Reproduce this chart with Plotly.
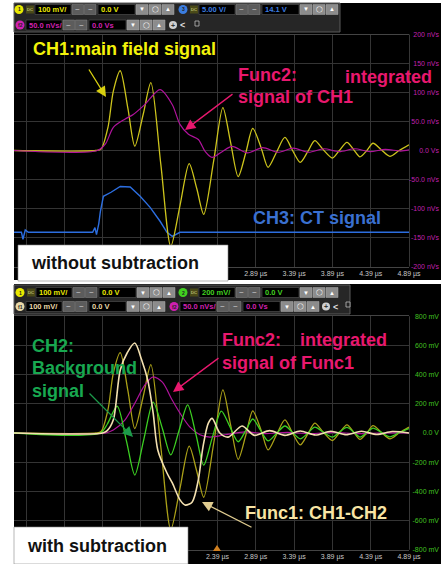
import plotly.graph_objects as go

W, H = 441, 564

# ---- waveforms (time in µs) ----
# CH1 main field signal, mV (same channel in both shots)
t_ch1 = [-0.27, 0.80, 0.87, 0.96, 1.03, 1.12, 1.22, 1.31, 1.42, 1.52, 1.65, 1.78, 1.90,
         2.02, 2.12, 2.21, 2.34, 2.46, 2.56, 2.66, 2.76, 2.85, 2.96, 3.05, 3.16, 3.27,
         3.37, 3.47, 3.57, 3.66, 3.77, 3.89, 3.98, 4.08, 4.17, 4.25, 4.34, 4.42, 4.53,
         4.64, 4.76, 4.89]
ch1_mv = [0, 0, 5, 80, 205, 275, 145, 15, 125, 234, -48, -330, -190,
          -45, -132, -220, -36, 148, 29, -90, -7, 76, 9, -58, -6, 45,
          0, -41, -3, 34, 3, -26, 0, 28, 2, -22, 0, 25, 2,
          -20, 0, 20]

# Func2 (integral of CH1), nVs - top shot
t_f2_top = [-0.27, 0.82, 0.93, 1.03, 1.18, 1.29, 1.44, 1.64, 1.80, 1.90, 2.01, 2.14, 2.23,
            2.32, 2.45, 2.58, 2.78, 2.98, 3.18, 3.38, 3.58, 3.78, 3.98, 4.18, 4.38, 4.58,
            4.78, 4.89]
f2_top_nvs = [0, 0, 12, 40, 54, 62, 79, 105, 79, 45, 28, 19, -2,
              -12, -2, 7, -4, 5, -3, 4, -3, 3, -2, 3, -2, 2,
              -1, 1]

# CH3 CT signal, V
t_ch3 = [-0.27, -0.17, -0.15, -0.12, -0.08, 0.76, 0.79, 0.81, 0.84, 0.86, 0.90, 1.00,
         1.12, 1.25, 1.38, 1.51, 1.64, 1.73, 1.80, 1.90, 4.89]
ch3_v = [0.0, 0.0, -1.2, 0.4, 0.0, 0.0, 0.8, -0.4, 1.5, 3.5, 6.2, 6.9,
         7.9, 7.8, 6.2, 4.3, 1.9, 0.0, -0.7, 0.0, 0.0]

# CH2 background signal, mV
t_ch2 = [-0.27, 0.86, 0.95, 1.08, 1.20, 1.31, 1.43, 1.55, 1.67, 1.78, 1.89, 2.00, 2.11,
         2.21, 2.32, 2.44, 2.55, 2.66, 2.76, 2.85, 2.95, 3.05, 3.16, 3.27, 3.37, 3.47,
         3.57, 3.66, 3.77, 3.89, 3.98, 4.08, 4.17, 4.25, 4.34, 4.42, 4.53, 4.64, 4.76,
         4.89]
ch2_mv = [0, 0, 60, 184, -52, -288, -38, 212, 31, -150, 21, 192, -14,
          -220, -35, 150, 45, -60, 18, 96, 20, -54, -3, 48, 4, -40,
          0, 40, 6, -28, 6, 38, 5, -28, 3, 34, 4, -26, 2,
          30]

# Func1 = CH1 - CH2, mV
t_f1 = [-0.27, 0.89, 0.95, 1.03, 1.12, 1.21, 1.31, 1.40, 1.48, 1.55, 1.61, 1.73, 1.80,
        1.90, 1.97, 2.06, 2.14, 2.20, 2.27, 2.32, 2.42, 2.53, 2.71, 2.87, 3.07, 3.27,
        3.47, 3.67, 3.87, 4.07, 4.27, 4.47, 4.67, 4.89]
f1_mv = [0, 0, 8, 45, 216, 274, 308, 250, 180, 68, -58, -137, -171,
         -229, -247, -236, -160, -48, 34, 50, 0, -14, 24, -8, 8, -8,
         7, -7, 6, -6, 6, -5, 5, 0]

# Func2 (integral of Func1), nVs - bottom shot
t_f2_bot = [-0.27, 0.93, 1.03, 1.18, 1.31, 1.44, 1.55, 1.67, 1.80, 1.90, 2.03, 2.16, 2.29,
            2.49, 2.75, 3.00, 3.30, 3.60, 3.90, 4.20, 4.50, 4.89]
f2_bot_nvs = [0, 0, 5, 22, 51, 82, 96, 87, 56, 34, 10, -3, -7,
              -3, 2, -1, 1, -1, 1, -1, 0, 0]

# scope settings (per division)
CH1_SCALE = 100.0
CH2_SCALE = 200.0
CH3_SCALE = 5.0
CH3_OFFSET = 14.1
F1_SCALE = 100.0
F2_SCALE = 50.0

x_ticks = [-0.11, 0.39, 0.89, 1.39, 1.89, 2.39, 2.89, 3.39, 3.89, 4.39, 4.89]
top_ticks = [-200, -150, -100, -50, 0, 50, 100, 150, 200]
top_labels = ["-200 nVs", "-150 nVs", "-100 nVs", "-50.0 nVs", "0.0 Vs",
              "50.0 nVs", "100 nVs", "150 nVs", "200 nVs"]
bot_ticks = [-800, -600, -400, -200, 0, 200, 400, 600, 800]
bot_labels = ["-800 mV", "-600 mV", "-400 mV", "-200 mV", "0.0 V",
              "200 mV", "400 mV", "600 mV", "800 mV"]

YEL = "#cdc41c"
MAG = "#b0139c"
BLU = "#2c6ee0"
GRN = "#3ccf22"
CRM = "#f3e0b0"
SMOOTH = 0.8

fig = go.Figure()

# top shot, plotted on the Func2 (nVs) axis
fig.add_trace(go.Scatter(x=t_ch3, y=[(v - CH3_OFFSET) / CH3_SCALE * F2_SCALE for v in ch3_v],
                         line=dict(color=BLU, width=1.4), xaxis="x", yaxis="y"))
fig.add_trace(go.Scatter(x=t_ch1, y=[v / CH1_SCALE * F2_SCALE for v in ch1_mv],
                         line=dict(color=YEL, width=1.3, shape="spline", smoothing=SMOOTH),
                         xaxis="x", yaxis="y"))
fig.add_trace(go.Scatter(x=t_f2_top, y=f2_top_nvs,
                         line=dict(color=MAG, width=1.2, shape="spline", smoothing=SMOOTH),
                         xaxis="x", yaxis="y"))

# bottom shot, plotted on the CH2 (mV) axis
fig.add_trace(go.Scatter(x=t_ch1, y=[v / CH1_SCALE * CH2_SCALE for v in ch1_mv],
                         line=dict(color="#aaa018", width=1.3, shape="spline", smoothing=SMOOTH),
                         xaxis="x2", yaxis="y2"))
fig.add_trace(go.Scatter(x=t_f2_bot, y=[v / F2_SCALE * CH2_SCALE for v in f2_bot_nvs],
                         line=dict(color=MAG, width=1.2, shape="spline", smoothing=SMOOTH),
                         xaxis="x2", yaxis="y2"))
fig.add_trace(go.Scatter(x=t_ch2, y=ch2_mv,
                         line=dict(color=GRN, width=1.3, shape="spline", smoothing=SMOOTH),
                         xaxis="x2", yaxis="y2"))
fig.add_trace(go.Scatter(x=t_f1, y=[v / F1_SCALE * CH2_SCALE for v in f1_mv],
                         line=dict(color=CRM, width=1.6, shape="spline", smoothing=SMOOTH),
                         xaxis="x2", yaxis="y2"))

shapes = []
notes = []


def box(x0, y0, x1, y1, fill, line="rgba(0,0,0,0)", width=0, layer="above"):
    shapes.append(dict(type="rect", xref="paper", yref="paper",
                       x0=x0 / W, x1=x1 / W, y0=1 - y1 / H, y1=1 - y0 / H,
                       fillcolor=fill, line=dict(color=line, width=width), layer=layer))


def dot(cx, cy, r, fill):
    shapes.append(dict(type="circle", xref="paper", yref="paper",
                       x0=(cx - r) / W, x1=(cx + r) / W, y0=1 - (cy + r) / H, y1=1 - (cy - r) / H,
                       fillcolor=fill, line=dict(width=0), layer="above"))


def text(x, y, s, color, size, bold=False, anchor="left"):
    notes.append(dict(xref="paper", yref="paper", x=x / W, y=1 - y / H,
                      text=f"<b>{s}</b>" if bold else s, showarrow=False,
                      xanchor=anchor, yanchor="middle", borderpad=0,
                      font=dict(family="Arial", size=size, color=color)))


def arrow(hx, hy, tx, ty, color):
    notes.append(dict(xref="paper", yref="paper", x=hx / W, y=1 - hy / H,
                      ax=tx - hx, ay=ty - hy, text="", showarrow=True,
                      arrowhead=2, arrowsize=1.6, arrowwidth=1.3, arrowcolor=color))


def control(cx, cy, color, tag, scale, offset, dc=True):
    dot(cx, cy, 4.5, color)
    text(cx, cy, tag, "#222", 5, bold=True, anchor="center")
    x = cx + 6
    if dc:
        box(x + 1, cy - 4, x + 9, cy + 4, "#4a4a18")
        text(x + 5, cy, "DC", "#e8e8a0", 4, anchor="center")
        x += 10
    box(x, cy - 5, x + 36, cy + 5, "#000", "#555", 0.6)
    text(x + 2, cy, scale, color, 7.5, bold=True)
    x += 37
    for i in range(2):
        box(x + i * 12.5, cy - 5, x + i * 12.5 + 11.5, cy + 5, "#5c5c5c", "#888", 0.5)
        text(x + i * 12.5 + 5.8, cy, "~", "#ddd", 8, anchor="center")
    x += 26
    box(x, cy - 5, x + 37, cy + 5, "#000", "#555", 0.6)
    text(x + 2, cy, offset, color, 7.5, bold=True)
    x += 38
    for i, s in enumerate(["▼", "◯", "▲"]):
        box(x + i * 13, cy - 5, x + i * 13 + 12, cy + 5, "#8c8c8c", "#aaa", 0.5)
        text(x + i * 13 + 6, cy, s, "#fff", 6, anchor="center")


# scope screens and toolbars
box(14, 3, 441, 280, "#000", layer="below")
box(14, 284, 441, 564, "#000", layer="below")
box(14, 3, 340, 32, "#262626", "#5a5a5a", 1)
box(14, 285, 350, 314, "#262626", "#5a5a5a", 1)

control(19, 9.5, "#e8e800", "1", "100 mV/", "0.0 V")
control(183, 9.5, "#3b7de0", "3", "5.00 V/", "14.1 V")
control(20, 25, "#d020b0", "f2", "50.0 nVs/", "0.0 Vs", dc=False)
dot(173, 25, 4, "#cfcfcf")
text(173, 25, "+", "#333", 7, bold=True, anchor="center")
text(182, 25, "<", "#ddd", 9, bold=True, anchor="center")
box(195, 21, 199, 26, "#222", "#bbb", 0.8)

control(20, 292.5, "#e8e800", "1", "100 mV/", "0.0 V")
control(183, 292.5, "#40d020", "2", "200 mV/", "0.0 V")
control(20, 306.5, "#e8d8a8", "f1", "100 mV/", "0.0 V", dc=False)
control(174, 306.5, "#d020b0", "f2", "50.0 nVs/", "0.0 Vs", dc=False)
dot(326, 306.5, 4, "#cfcfcf")
text(326, 306.5, "+", "#333", 7, bold=True, anchor="center")
text(335, 306.5, "<", "#ddd", 9, bold=True, anchor="center")
box(346, 302, 350, 307, "#222", "#bbb", 0.8)

# trigger marker
shapes.append(dict(type="path", xref="paper", yref="paper",
                   path=f"M {213 / W},{1 - 551 / H} L {221 / W},{1 - 551 / H} L {217 / W},{1 - 545 / H} Z",
                   fillcolor="#d08020", line=dict(width=0), layer="above"))

# right border of both screens
box(409, 34.5, 409.8, 266.5, "#444", layer="below")
box(409, 316.2, 409.8, 549.8, "#444", layer="below")

# white caption boxes
box(18, 245, 228, 281, "#fff", "#888", 0.6)
box(14, 527, 188, 564, "#fff", "#888", 0.6)
text(30, 263, "without subtraction", "#111", 18, bold=True)
text(26, 546, "with subtraction", "#111", 18, bold=True)

# top-shot labels
PINK = "#e8186e"
text(32, 49, "CH1:main field signal", "#f2f20a", 18, bold=True)
text(237, 75, "Func2:", PINK, 18, bold=True)
text(344, 77, "integrated", PINK, 18, bold=True)
text(237, 97, "signal of CH1", PINK, 18, bold=True)
text(252, 218, "CH3: CT signal", "#3a70d0", 18, bold=True)
arrow(106, 97, 88, 68, "#d8d010")
arrow(185, 130, 234, 93, PINK)

# bottom-shot labels
text(31, 346, "CH2:", "#18a850", 18, bold=True)
text(31, 368, "Background", "#18a850", 18, bold=True)
text(31, 391, "signal", "#18a850", 18, bold=True)
text(221, 340, "Func2:", PINK, 18, bold=True)
text(299, 340, "integrated", PINK, 18, bold=True)
text(221, 363, "signal of Func1", PINK, 18, bold=True)
text(244, 513, "Func1: CH1-CH2", "#f8e4a4", 18, bold=True)
arrow(133, 437, 88, 392, "#1c9a4a")
arrow(173, 392, 220, 357, PINK)
arrow(202, 502, 253, 528, "#e0cc90")

GRID = "#343434"
xdom = [14 / W, 409 / W]
top_x_labels = [f"{t:.2f} µs" if t > 2.5 else "" for t in x_ticks]
bot_x_labels = [f"{t:.2f} µs" if t > 2.0 else "" for t in x_ticks]

xcommon = dict(domain=xdom, range=[-0.267, 4.89], tickvals=x_ticks, showgrid=True,
               gridcolor=GRID, gridwidth=1, zeroline=False, showline=True, linecolor="#444",
               mirror=True, ticks="", automargin=False,
               tickfont=dict(family="Arial", size=7, color="#c8c8c8"))
# value labels sit right-aligned against the screen edge
ycommon = dict(anchor="free", position=439 / W, side="left", showgrid=True,
               gridcolor=GRID, gridwidth=1, zeroline=False, showline=False,
               ticks="", automargin=False)

fig.update_layout(
    width=W, height=H,
    margin=dict(l=0, r=0, t=0, b=0),
    paper_bgcolor="#ffffff",
    plot_bgcolor="#000000",
    showlegend=False,
    xaxis=dict(anchor="y", ticktext=top_x_labels, **xcommon),
    xaxis2=dict(anchor="y2", ticktext=bot_x_labels, **xcommon),
    yaxis=dict(domain=[1 - 266.5 / H, 1 - 34.5 / H], range=[-200, 200],
               tickvals=top_ticks, ticktext=top_labels,
               tickfont=dict(family="Arial", size=7, color="#c020b0"), **ycommon),
    yaxis2=dict(domain=[1 - 549.8 / H, 1 - 316.2 / H], range=[-800, 800],
                tickvals=bot_ticks, ticktext=bot_labels,
                tickfont=dict(family="Arial", size=7, color="#40c020"), **ycommon),
    shapes=shapes,
    annotations=notes,
)

fig.write_html("out.html", config={"displayModeBar": False})

# drop the default page margin so the figure sits at the window's corner
with open("out.html", encoding="utf-8") as f:
    page = f.read()
page = page.replace("<head>", "<head><style>html,body{margin:0;padding:0;overflow:hidden;}</style>", 1)
with open("out.html", "w", encoding="utf-8") as f:
    f.write(page)
